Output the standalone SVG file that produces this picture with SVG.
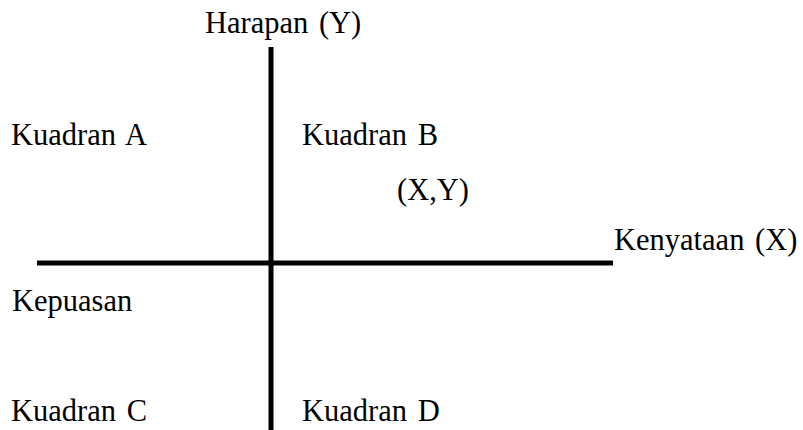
<svg xmlns="http://www.w3.org/2000/svg" width="803" height="430" viewBox="0 0 803 430">
<style>
text{font-family:"Liberation Serif","Times New Roman",serif;font-size:30.5px;fill:#000;word-spacing:3px}
.ax{stroke:#000;stroke-width:5;fill:none}
</style>
<rect width="803" height="430" fill="#fff"/>
<g id="axes">
<line class="ax" x1="271" y1="47" x2="271" y2="430"/>
<line class="ax" x1="37" y1="263" x2="613" y2="263"/>
</g>
<g id="labels">
<text x="205" y="33">Harapan (Y)</text>
<text x="11" y="145">Kuadran A</text>
<text x="302" y="145">Kuadran B</text>
<text x="397" y="200">(X,Y)</text>
<text x="614" y="250">Kenyataan (X)</text>
<text x="12" y="311">Kepuasan</text>
<text x="11" y="421">Kuadran C</text>
<text x="302" y="421">Kuadran D</text>
</g>
</svg>
